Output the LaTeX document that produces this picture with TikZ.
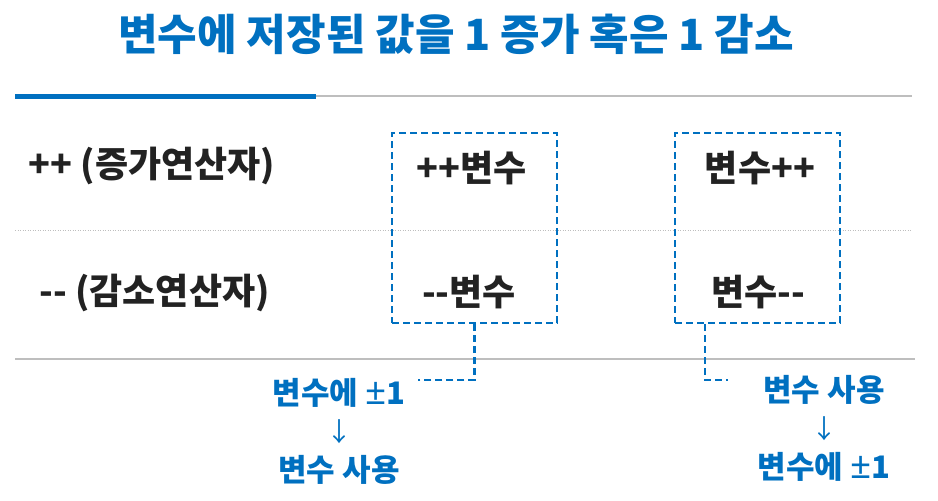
\documentclass[tikz,border=0pt]{standalone}
\usepackage{fontspec}
\newfontfamily\krfont{Noto Sans CJK KR}
\newfontfamily\pmfont{Noto Sans}
\usetikzlibrary{calc}
\definecolor{krblue}{RGB}{0,112,192}
\definecolor{krink}{RGB}{34,34,34}
\definecolor{krrule}{RGB}{190,190,190}
\newcommand{\pmone}{{\pmfont\bfseries\fontsize{37}{37}\selectfont ±}1}

\begin{document}
\begin{tikzpicture}[x=1pt, y=-1pt,
	oplabel/.style={anchor=west, text=krink, font=\krfont\fontsize{36}{36}\selectfont\bfseries},
	optext/.style={text=krink, font=\krfont\fontsize{36}{36}\selectfont\bfseries},
	steplabel/.style={text=krblue, font=\krfont\fontsize{31}{31}\selectfont\bfseries},
	opbox/.style={draw=krblue, line width=2.5pt, dash pattern=on 7pt off 4pt,
		minimum width=165pt, minimum height=190pt, inner sep=0pt},
	tieline/.style={draw=krblue, line width=2.5pt, dash pattern=on 7pt off 4pt}]
	
	\useasboundingbox (0,0) rectangle (938,501);
	
% Title and rules
\node[text=krblue, font=\krfont\fontsize{43}{43}\selectfont\bfseries] (title) at (456,34)
	{변수에 저장된 값을 1 증가 혹은 1 감소};
\draw[krrule, line width=1.5pt] (316,96) -- (912,96);
\draw[krblue, line width=5pt] (15,96) -- (316,96);
\draw[krrule, line width=1pt, dash pattern=on 1pt off 1.5pt] (15,230) -- (912,230);
\draw[krrule, line width=1.5pt] (15,359) -- (915,359);

% Operator rows
\node[oplabel] (inclabel) at (25,166) {++ (증가연산자)};
\node[oplabel] (declabel) at (36,293) {-- (감소연산자)};

% Prefix and postfix boxes
\node[opbox] (pre) at (474.5,228) {};
\node[opbox] (post) at (757.5,228) {};
\node[optext] (preinc) at (472,168) {++변수};
\node[optext] (predec) at (469,292) {--변수};
\node[optext] (postinc) at (760,168) {변수++};
\node[optext] (postdec) at (758,292) {변수--};

	% Ties to the order of steps
	\coordinate (preend) at (418,380);
	\coordinate (postend) at (728,380);
	\draw[tieline] (pre.south) |- (preend);
	\draw[tieline] ($(post.south west)+(31,0)$) |- (postend);
	
	% Order of steps
	\foreach \name/\cx/\ty/\first/\second in {pre/339/393/변수에 \pmone/변수 사용, post/824/390/변수 사용/변수에 \pmone}{
		\node[steplabel] (\name first) at (\cx,\ty) {\first};
		\node[steplabel, font=\krfont\fontsize{26}{26}\selectfont\mdseries] (\name arrow) at (\cx,\ty+39) {↓};
		\node[steplabel] (\name second) at (\cx,\ty+77) {\second};
	}
\end{tikzpicture}
\end{document}
